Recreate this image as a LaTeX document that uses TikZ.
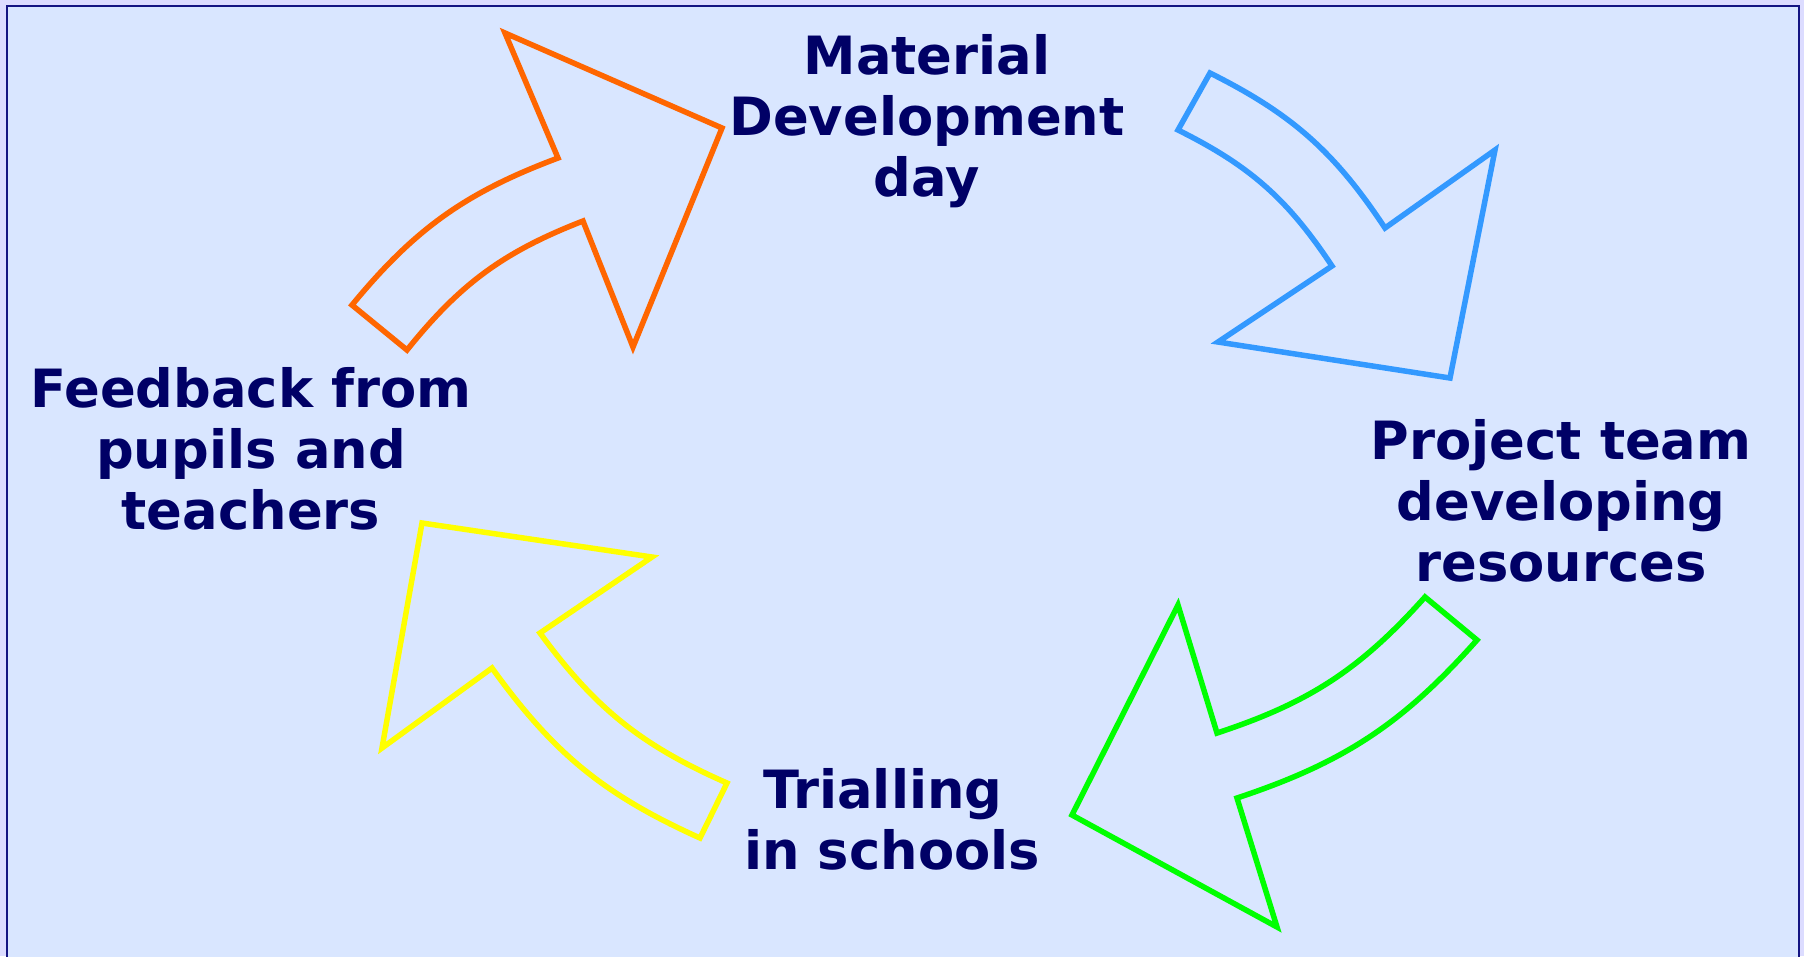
\documentclass[tikz,border=0pt]{standalone}
\usepackage{fontspec}
\setmainfont{DejaVu Sans}
\usetikzlibrary{positioning}

\definecolor{pagelilac}{RGB}{220,220,255}
\definecolor{panelblue}{RGB}{217,230,255}
\definecolor{frameblue}{RGB}{20,20,130}
\definecolor{labelnavy}{RGB}{0,0,102}
\definecolor{arrorange}{RGB}{255,102,0}
\definecolor{arrblue}{RGB}{51,153,255}
\definecolor{arrgreen}{RGB}{0,255,0}
\definecolor{arryellow}{RGB}{255,255,0}

\tikzset{stage/.style={font=\bfseries\fontsize{15pt}{17.4pt}\selectfont, text=labelnavy, align=center, inner sep=0pt},
  bent/.style={line width=0.55mm, line join=miter, miter limit=20}}

\begin{document}
\begin{tikzpicture}[x=0.1mm,y=-0.1mm]
    \useasboundingbox (0,0) rectangle (1804,956);
    \fill[pagelilac] (0,0) rectangle (1804,956);
    \filldraw[fill=panelblue, draw=frameblue, line width=0.2mm] (7,962) -- (7,6) -- (1799,6) -- (1799,962);

    % the four curved arrows of the cycle
    \draw[bent, draw=arrorange] (407,350) -- (352,305) to[bend left=15] (558,158) -- (505,33) -- (722,128) -- (633,347) -- (583,221) to[bend right=15] (407,350) -- cycle;
    \draw[bent, draw=arrblue] (1210,73) -- (1178,130) to[bend left=15] (1332,266) -- (1218,342) -- (1450,378) -- (1495,150) -- (1385,228) to[bend right=15] (1210,73) -- cycle;
    \draw[bent, draw=arrgreen] (1425,597) -- (1477,640) to[bend left=15] (1237,798) -- (1277,927) -- (1072,815) -- (1178,605) -- (1217,733) to[bend right=15] (1425,597) -- cycle;
    \draw[bent, draw=arryellow] (700,838) -- (727,783) to[bend left=15] (540,633) -- (652,557) -- (422,523) -- (382,748) -- (492,668) to[bend right=15] (700,838) -- cycle;

    \node[stage] (matday) at (927,121) {Material\\Development\\day};
    \node[stage] (project) at (1561,501) {Project team\\developing\\resources};
    \node[stage] (trial) at (892,819) {Trialling\hspace*{0.35em}\\in schools};
    \node[stage] (feedback) at (251,449) {Feedback from\\pupils and\\teachers};
\end{tikzpicture}
\end{document}
